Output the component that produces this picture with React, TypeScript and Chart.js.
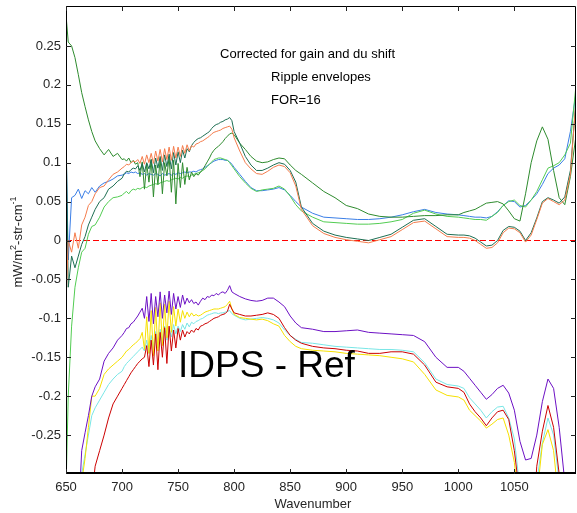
import React, { useEffect, useRef } from "react";
import { Chart, registerables } from "chart.js";

Chart.register(...registerables);

// Wavenumber grid (cm-1)
const wavenumber = [
  650, 652, 655, 658, 661, 664, 667, 670, 673, 676,
  680, 684, 688, 692, 696, 700,
  702, 704, 706, 708, 710, 712, 714, 716, 718, 720, 722, 724, 726, 728, 730, 732, 734, 736, 738, 740, 742, 744, 746, 748, 750,
  752, 754, 756, 758, 760, 762, 764, 766, 768, 770, 772, 774, 776, 778, 780, 782, 784, 786, 788, 790, 792, 794, 796, 798, 800,
  805, 810, 815, 820, 825, 830, 835, 840, 845, 850, 855, 860,
  870, 880, 890, 900, 910, 920, 930, 940, 950, 960, 970, 980, 990, 1000,
  1005, 1010, 1015, 1020, 1025, 1030, 1035, 1040, 1045, 1050, 1055, 1060, 1065, 1070, 1075, 1080, 1085, 1090, 1095, 1100, 1105,
];

const blueSeries = [
  0.13, -0.025, 0.055, 0.058, 0.066, 0.054, 0.064, 0.06, 0.068, 0.062,
  0.07, 0.074, 0.076, 0.079, 0.083, 0.084,
  0.085, 0.087, 0.086, 0.088, 0.087, 0.088, 0.086, 0.087, 0.085, 0.086, 0.084, 0.086, 0.085, 0.084, 0.086, 0.085, 0.083, 0.086, 0.084, 0.085, 0.086, 0.084, 0.086, 0.085, 0.087,
  0.086, 0.087, 0.088, 0.087, 0.088, 0.088, 0.089, 0.088, 0.09, 0.091, 0.092, 0.094, 0.096, 0.098, 0.1, 0.102, 0.103, 0.104, 0.104, 0.104, 0.103, 0.103, 0.101, 0.098, 0.094,
  0.085, 0.076, 0.068, 0.064, 0.064, 0.065, 0.066, 0.068, 0.065, 0.058, 0.05, 0.043,
  0.035, 0.03, 0.029, 0.028, 0.027, 0.027, 0.028, 0.03, 0.033, 0.037, 0.04, 0.036, 0.034, 0.033,
  0.032, 0.031, 0.03, 0.03, 0.029, 0.031, 0.037, 0.045, 0.051, 0.05, 0.043, 0.045, 0.052, 0.06, 0.072, 0.086, 0.093, 0.097, 0.105, 0.14, 0.19,
];

const lightGreenSeries = [
  -0.32, -0.2, -0.11, -0.06, -0.035, -0.015, -0.01, 0.008, 0.018, 0.02,
  0.03, 0.043, 0.05, 0.055, 0.056, 0.058,
  0.061, 0.063, 0.06, 0.064, 0.066, 0.065, 0.067, 0.066, 0.068, 0.069, 0.068, 0.07, 0.071, 0.072, 0.073, 0.072, 0.074, 0.075, 0.076, 0.077, 0.076, 0.078, 0.079, 0.08, 0.079,
  0.081, 0.08, 0.082, 0.083, 0.082, 0.084, 0.085, 0.086, 0.087, 0.088, 0.09, 0.092, 0.095, 0.098, 0.101, 0.104, 0.105, 0.106, 0.106, 0.105, 0.104, 0.103, 0.1, 0.096, 0.092,
  0.082, 0.074, 0.067, 0.063, 0.065, 0.066, 0.067, 0.07, 0.066, 0.057, 0.046, 0.038,
  0.03, 0.024, 0.023, 0.022, 0.021, 0.021, 0.022, 0.024, 0.027, 0.035, 0.039, 0.034, 0.031, 0.03,
  0.029, 0.028, 0.027, 0.027, 0.026, 0.031, 0.036, 0.045, 0.05, 0.052, 0.045, 0.043, 0.052, 0.063, 0.078, 0.093, 0.096, 0.1, 0.11, 0.125, 0.2,
];

const forestGreenSeries = [
  0.29, 0.255, 0.25, 0.235, 0.213, 0.19, 0.172, 0.155, 0.14, 0.128,
  0.118, 0.11, 0.117, 0.108, 0.112, 0.104,
  0.105, 0.102, 0.106, 0.1, 0.103, 0.098, 0.1, 0.082, 0.101, 0.066, 0.099, 0.075, 0.104, 0.056, 0.097, 0.072, 0.105, 0.06, 0.1, 0.083, 0.107, 0.062, 0.103, 0.047, 0.099,
  0.068, 0.1, 0.072, 0.094, 0.078, 0.088, 0.082, 0.086, 0.084, 0.088, 0.091, 0.096, 0.101, 0.106, 0.112, 0.116, 0.119, 0.121, 0.124, 0.127, 0.131, 0.134, 0.137, 0.138, 0.136,
  0.125, 0.117, 0.108, 0.102, 0.1, 0.101, 0.104, 0.106, 0.105, 0.097, 0.09, 0.085,
  0.074, 0.063, 0.055, 0.045, 0.041, 0.034, 0.031, 0.03, 0.03, 0.031, 0.032, 0.032, 0.033, 0.033,
  0.036, 0.038, 0.04, 0.044, 0.048, 0.049, 0.05, 0.047, 0.038, 0.028, 0.025, 0.06, 0.1, 0.128, 0.146, 0.13, 0.09, 0.055, 0.046, 0.082, 0.135,
];

const tealSeries = [
  0.15, -0.06, -0.02, -0.035, -0.02, -0.005, 0.005, 0.02, 0.03, 0.04,
  0.05, 0.055, 0.066, 0.07, 0.076, 0.08,
  0.086, 0.089, 0.088, 0.091, 0.093, 0.092, 0.096, 0.09, 0.099, 0.088, 0.1, 0.092, 0.104, 0.087, 0.106, 0.093, 0.108, 0.09, 0.11, 0.095, 0.111, 0.092, 0.113, 0.097, 0.114,
  0.1, 0.116, 0.106, 0.118, 0.114, 0.122, 0.126, 0.129, 0.131, 0.132, 0.134, 0.136, 0.138, 0.14, 0.144, 0.147, 0.149, 0.15, 0.152, 0.153, 0.155, 0.156, 0.158, 0.154, 0.14,
  0.125, 0.108, 0.097, 0.09, 0.09, 0.093, 0.097, 0.1, 0.098, 0.09, 0.075, 0.043,
  0.022, 0.012, 0.007, 0.004, 0.002, 0.0, 0.004, 0.008, 0.017, 0.026, 0.028, 0.018, 0.008, 0.007,
  0.007, 0.006, 0.003, -0.002, -0.007, -0.006, 0.0, 0.013, 0.018, 0.017, 0.012, 0.0, 0.01, 0.029, 0.05, 0.055, 0.052, 0.048, 0.056, 0.09, 0.18,
];

const orangeSeries = [
  -0.08, 0.0, -0.015, 0.01, -0.01, 0.02, 0.03, 0.045, 0.05, 0.06,
  0.068, 0.07, 0.078, 0.085, 0.088, 0.093,
  0.095, 0.098, 0.097, 0.1, 0.102, 0.101, 0.104, 0.099, 0.108, 0.098, 0.11, 0.1, 0.112, 0.099, 0.115, 0.102, 0.117, 0.101, 0.118, 0.104, 0.12, 0.103, 0.121, 0.106, 0.12,
  0.108, 0.122, 0.112, 0.123, 0.115, 0.122, 0.12, 0.124, 0.125, 0.127, 0.128, 0.13, 0.132, 0.134, 0.137, 0.139, 0.14, 0.141, 0.142, 0.144, 0.145, 0.146, 0.147, 0.143, 0.132,
  0.115, 0.1, 0.092, 0.086, 0.085, 0.089, 0.094, 0.097, 0.095, 0.087, 0.07, 0.04,
  0.019, 0.009, 0.004, 0.001, -0.001, -0.003, 0.001, 0.005, 0.014, 0.023, 0.025, 0.015, 0.005, 0.004,
  0.004, 0.003, 0.0, -0.005, -0.01, -0.009, -0.003, 0.01, 0.016, 0.015, 0.01, -0.002, 0.007, 0.027, 0.048, 0.054, 0.05, 0.046, 0.052, 0.085, 0.18,
];

const purpleSeries = [
  -0.4, -0.4, -0.4, -0.4, -0.36, -0.27, -0.247, -0.225, -0.2, -0.188,
  -0.178, -0.155, -0.145, -0.138, -0.128, -0.122,
  -0.118, -0.113, -0.112, -0.107, -0.105, -0.101, -0.097, -0.092, -0.087, -0.1, -0.072, -0.104, -0.068, -0.107, -0.072, -0.098, -0.066, -0.1, -0.07, -0.093, -0.065, -0.095, -0.068, -0.088, -0.072,
  -0.086, -0.07, -0.082, -0.074, -0.08, -0.076, -0.081, -0.079, -0.083, -0.078, -0.074, -0.076, -0.072, -0.073, -0.07, -0.071, -0.068, -0.07, -0.067, -0.066, -0.068, -0.064, -0.058, -0.066, -0.068,
  -0.072, -0.075, -0.077, -0.078, -0.077, -0.074, -0.074, -0.079, -0.085, -0.097, -0.106, -0.112,
  -0.114, -0.117, -0.117, -0.116, -0.115, -0.118, -0.119, -0.12, -0.121, -0.122, -0.13, -0.15, -0.163, -0.163,
  -0.168, -0.177, -0.186, -0.195, -0.204, -0.198, -0.19, -0.186, -0.196, -0.218, -0.258, -0.282, -0.28, -0.25, -0.207, -0.178, -0.19, -0.24, -0.31, -0.4, -0.4,
];

const redSeries = [
  -0.4, -0.4, -0.4, -0.4, -0.4, -0.4, -0.4, -0.4, -0.33, -0.29,
  -0.27, -0.25, -0.228, -0.21, -0.2, -0.19,
  -0.185, -0.18, -0.175, -0.17, -0.166, -0.162, -0.158, -0.155, -0.152, -0.15, -0.135, -0.162, -0.128, -0.16, -0.12, -0.166, -0.118, -0.15, -0.112, -0.158, -0.11, -0.142, -0.115, -0.138, -0.113,
  -0.128, -0.115, -0.124, -0.117, -0.12, -0.115, -0.118, -0.113, -0.115, -0.11, -0.109, -0.107, -0.106, -0.104, -0.102, -0.1, -0.099, -0.098, -0.096, -0.095, -0.094, -0.091, -0.082, -0.088, -0.093,
  -0.095, -0.097, -0.097, -0.096, -0.095, -0.093, -0.095, -0.1, -0.112, -0.122, -0.128, -0.132,
  -0.136, -0.138, -0.139, -0.141, -0.142, -0.145, -0.145, -0.143, -0.143, -0.146, -0.16, -0.182, -0.188, -0.19,
  -0.195, -0.21, -0.22, -0.228, -0.238, -0.228, -0.22, -0.218, -0.23, -0.27, -0.33, -0.4, -0.4, -0.29, -0.245, -0.212, -0.24, -0.3, -0.4, -0.4, -0.4,
];

const cyanSeries = [
  -0.4, -0.4, -0.4, -0.4, -0.4, -0.3, -0.275, -0.25, -0.225, -0.215,
  -0.205, -0.195, -0.185, -0.178, -0.172, -0.168,
  -0.162, -0.158, -0.155, -0.152, -0.149, -0.146, -0.143, -0.14, -0.137, -0.142, -0.128, -0.145, -0.122, -0.14, -0.117, -0.138, -0.114, -0.133, -0.11, -0.128, -0.112, -0.124, -0.108, -0.12, -0.11,
  -0.117, -0.108, -0.114, -0.106, -0.111, -0.105, -0.107, -0.104, -0.103, -0.101, -0.1, -0.098, -0.096, -0.095, -0.094, -0.093, -0.093, -0.094, -0.093, -0.093, -0.092, -0.091, -0.09, -0.094, -0.096,
  -0.1, -0.102, -0.101, -0.1, -0.099, -0.1, -0.102, -0.106, -0.115, -0.122, -0.127, -0.131,
  -0.132, -0.134, -0.136, -0.137, -0.138, -0.139, -0.14, -0.14, -0.141, -0.143, -0.157, -0.178, -0.185, -0.187,
  -0.19, -0.202, -0.21, -0.218, -0.228, -0.22, -0.214, -0.213, -0.228, -0.255, -0.32, -0.4, -0.4, -0.31, -0.26, -0.228, -0.25, -0.31, -0.4, -0.4, -0.4,
];

const yellowSeries = [
  -0.4, -0.4, -0.4, -0.4, -0.4, -0.31, -0.28, -0.24, -0.2, -0.2,
  -0.19, -0.172, -0.165, -0.16, -0.155, -0.15,
  -0.146, -0.142, -0.14, -0.137, -0.134, -0.132, -0.129, -0.126, -0.118, -0.14, -0.098, -0.145, -0.09, -0.148, -0.086, -0.142, -0.08, -0.135, -0.082, -0.125, -0.078, -0.118, -0.085, -0.11, -0.088,
  -0.105, -0.09, -0.1, -0.092, -0.098, -0.093, -0.097, -0.095, -0.097, -0.096, -0.094, -0.092, -0.091, -0.09, -0.089, -0.088, -0.088, -0.088, -0.087, -0.086, -0.085, -0.082, -0.078, -0.088, -0.095,
  -0.099, -0.1, -0.101, -0.102, -0.101, -0.103, -0.107, -0.11, -0.122, -0.13, -0.136, -0.139,
  -0.141, -0.142, -0.143, -0.145, -0.146, -0.147, -0.148, -0.15, -0.152, -0.156, -0.172, -0.192, -0.199, -0.201,
  -0.205, -0.218, -0.225, -0.232, -0.241, -0.236, -0.23, -0.228, -0.25, -0.285, -0.35, -0.4, -0.4, -0.33, -0.262, -0.243, -0.27, -0.34, -0.4, -0.4, -0.4,
];

const zeroLineX = [650, 1105];
const zeroLineY = [0, 0];

const xTicks = [650, 700, 750, 800, 850, 900, 950, 1000, 1050];
const yTicks = [-0.25, -0.2, -0.15, -0.1, -0.05, 0, 0.05, 0.1, 0.15, 0.2, 0.25];
const yTickLabels = ["-0.25", "-0.2", "-0.15", "-0.1", "-0.05", "0", "0.05", "0.1", "0.15", "0.2", "0.25"];

const xLabel = "Wavenumber";
const noteLines = ["Corrected for gain and du shift", "Ripple envelopes", "FOR=16"];
const bigNote = "IDPS - Ref";

const FONT = '"Liberation Sans", Arial, Helvetica, sans-serif';

export default function App() {
  const ref = useRef<HTMLCanvasElement | null>(null);

  useEffect(() => {
    const canvas = ref.current;
    if (!canvas) return;
    const pts = (s: number[]) => wavenumber.map((x, i) => ({ x, y: s[i] }));
    const line = (label: string, s: number[], color: string) => ({
      label,
      data: pts(s),
      borderColor: color,
      backgroundColor: color,
      borderWidth: 1,
      pointRadius: 0,
      tension: 0,
      fill: false,
    });

    const decor = {
      id: "decor",
      afterDatasetsDraw(chart: any) {
        const { ctx, chartArea: a, scales } = chart;
        const xs = scales.x;
        const ys = scales.y;
        ctx.save();
        ctx.strokeStyle = "#000";
        ctx.lineWidth = 1;
        // frame
        ctx.beginPath();
        ctx.moveTo(a.left + 0.5, a.top + 0.5);
        ctx.lineTo(a.right - 0.5, a.top + 0.5);
        ctx.lineTo(a.right - 0.5, a.bottom - 0.5);
        ctx.moveTo(a.left + 0.5, a.top + 0.5);
        ctx.lineTo(a.left + 0.5, a.bottom);
        ctx.stroke();
        ctx.lineWidth = 2;
        ctx.beginPath();
        ctx.moveTo(a.left, a.bottom - 1);
        ctx.lineTo(a.right, a.bottom - 1);
        ctx.stroke();
        // ticks (inward)
        ctx.lineWidth = 1;
        ctx.strokeStyle = "#222";
        ctx.beginPath();
        const tl = 5;
        xTicks.forEach((v) => {
          const px = Math.round(xs.getPixelForValue(v)) + 0.5;
          ctx.moveTo(px, a.bottom);
          ctx.lineTo(px, a.bottom - tl);
          ctx.moveTo(px, a.top);
          ctx.lineTo(px, a.top + tl);
        });
        yTicks.forEach((v) => {
          const py = Math.round(ys.getPixelForValue(v)) + 0.5;
          ctx.moveTo(a.left, py);
          ctx.lineTo(a.left + tl, py);
          ctx.moveTo(a.right, py);
          ctx.lineTo(a.right - tl, py);
        });
        ctx.stroke();
        // tick labels
        ctx.fillStyle = "#262626";
        ctx.font = `13px ${FONT}`;
        ctx.textAlign = "center";
        ctx.textBaseline = "middle";
        xTicks.forEach((v) => {
          ctx.fillText(String(v), xs.getPixelForValue(v), a.bottom + 13);
        });
        ctx.textAlign = "right";
        yTicks.forEach((v, i) => {
          ctx.fillText(yTickLabels[i], a.left - 5, ys.getPixelForValue(v));
        });
        // x label
        ctx.textAlign = "center";
        ctx.textBaseline = "alphabetic";
        ctx.fillText(xLabel, 313, a.bottom + 34);
        // y label with superscripts
        ctx.save();
        ctx.translate(22, 242);
        ctx.rotate(-Math.PI / 2);
        const parts: [string, boolean][] = [
          ["mW/m", false],
          ["2", true],
          ["-str-cm", false],
          ["-1", true],
        ];
        let total = 0;
        parts.forEach(([t, sup]) => {
          ctx.font = sup ? `9px ${FONT}` : `13px ${FONT}`;
          total += ctx.measureText(t).width;
        });
        let cx = -total / 2;
        ctx.textAlign = "left";
        parts.forEach(([t, sup]) => {
          ctx.font = sup ? `9px ${FONT}` : `13px ${FONT}`;
          ctx.fillText(t, cx, sup ? -6 : 0);
          cx += ctx.measureText(t).width;
        });
        ctx.restore();
        // notes
        ctx.fillStyle = "#000";
        ctx.textAlign = "left";
        ctx.textBaseline = "alphabetic";
        ctx.font = `13px ${FONT}`;
        ctx.fillText(noteLines[0], xs.getPixelForValue(787.5), ys.getPixelForValue(0.2346));
        ctx.fillText(noteLines[1], xs.getPixelForValue(833), ys.getPixelForValue(0.205));
        ctx.fillText(noteLines[2], xs.getPixelForValue(833), ys.getPixelForValue(0.1755));
        ctx.font = `37px ${FONT}`;
        ctx.fillText(bigNote, xs.getPixelForValue(750), ys.getPixelForValue(-0.1756));
        ctx.restore();
      },
    };

    const chart = new Chart(canvas, {
      type: "line",
      data: {
        datasets: [
          line("purple", purpleSeries, "#6c10c4"),
          line("red", redSeries, "#cc0000"),
          line("yellow", yellowSeries, "#f6e000"),
          line("cyan", cyanSeries, "#78e6e6"),
          line("orange", orangeSeries, "#f47c4c"),
          line("teal", tealSeries, "#1d6e52"),
          line("forest", forestGreenSeries, "#2e8b2e"),
          line("lightgreen", lightGreenSeries, "#52cc52"),
          line("blue", blueSeries, "#3a7ee6"),
          {
            label: "zero",
            data: zeroLineX.map((x, i) => ({ x, y: zeroLineY[i] })),
            borderColor: "#ff0000",
            borderWidth: 1,
            borderDash: [6, 3],
            pointRadius: 0,
            fill: false,
          },
        ],
      },
      options: {
        responsive: false,
        animation: false,
        devicePixelRatio: 1,
        layout: { padding: { left: 66, right: 1, top: 6, bottom: 39 } },
        plugins: { legend: { display: false }, tooltip: { enabled: false } },
        scales: {
          x: { type: "linear", min: 650, max: 1105, display: false },
          y: { type: "linear", min: -0.3, max: 0.3013, display: false },
        },
      },
      plugins: [decor],
    } as any);

    return () => chart.destroy();
  }, []);

  return (
    <div style={{ position: "absolute", left: 0, top: 0, width: 577, height: 513, background: "#fff" }}>
      <canvas ref={ref} width={577} height={513} style={{ width: 577, height: 513, display: "block" }} />
    </div>
  );
}
